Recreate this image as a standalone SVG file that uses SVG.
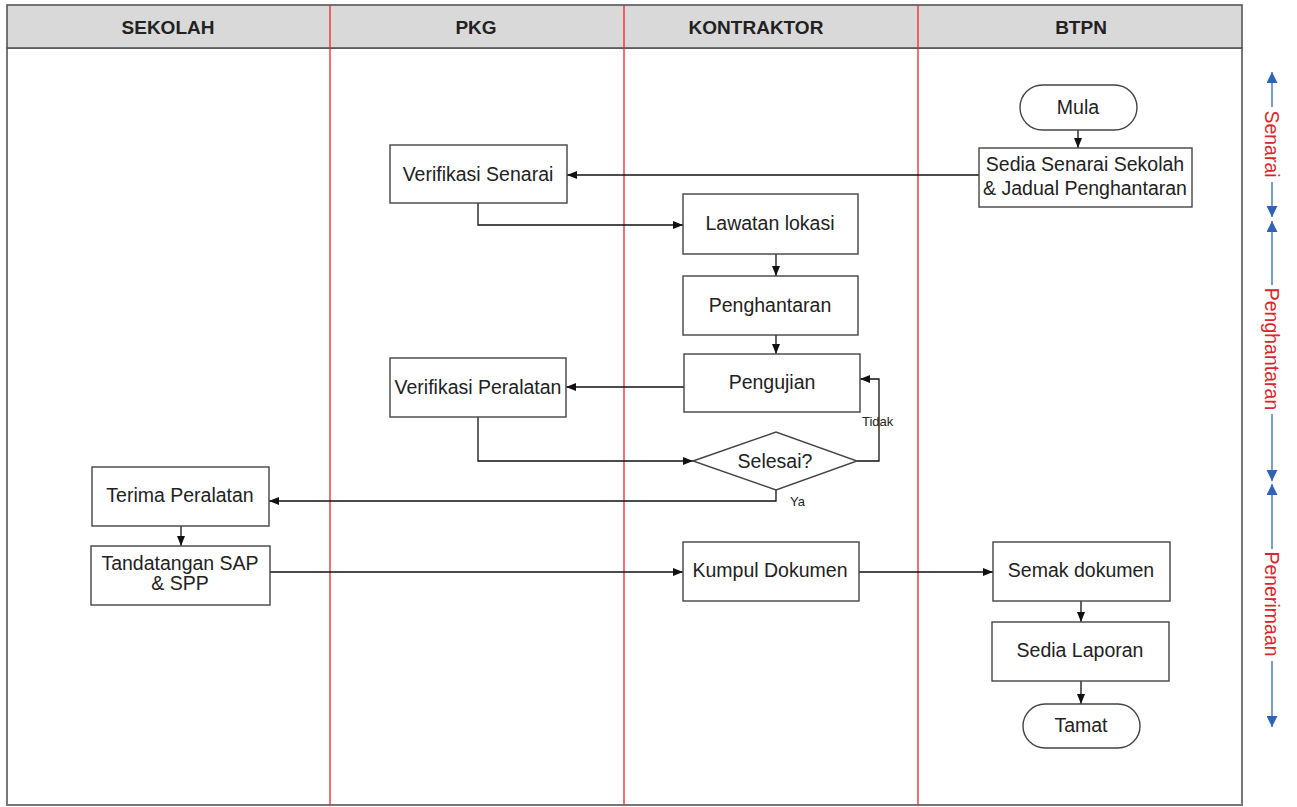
<svg xmlns="http://www.w3.org/2000/svg" width="1297" height="807" viewBox="0 0 1297 807">
<style>
.hdr{font-family:"Liberation Sans",Arial,sans-serif;font-size:19px;font-weight:bold;fill:#222;text-anchor:middle}
.t{font-family:"Liberation Sans",Arial,sans-serif;font-size:19.5px;fill:#222;text-anchor:middle}
.s{font-family:"Liberation Sans",Arial,sans-serif;font-size:13px;fill:#222}
.ph{font-family:"Liberation Sans",Arial,sans-serif;font-size:19.5px;fill:#d9262b;text-anchor:middle}
.box{fill:#fff;stroke:#444;stroke-width:1.4}
.lane{stroke:#e8262b;stroke-width:1.3;fill:none}
.c{fill:none;stroke:#111;stroke-width:1.3;marker-end:url(#ah)}
.b{fill:none;stroke:#4a7cc0;stroke-width:1.5}
</style>
<defs>
<marker id="ah" viewBox="0 0 10 8" refX="10" refY="4" markerWidth="10" markerHeight="8" markerUnits="userSpaceOnUse" orient="auto">
<path d="M0,0 L10,4 L0,8 z" fill="#111"/>
</marker>
<marker id="bh" viewBox="0 0 10 10" refX="10" refY="5" markerWidth="11" markerHeight="11" markerUnits="userSpaceOnUse" orient="auto">
<path d="M0,0 L10,5 L0,10 z" fill="#2f63b5"/>
</marker>
</defs>
<rect width="1297" height="807" fill="#fff"/>
<g id="frame">
<rect x="7" y="48" width="1235" height="757" fill="#fff" stroke="#777" stroke-width="2"/>
<rect x="7" y="5" width="1235" height="43" fill="#d9d9d9" stroke="#555" stroke-width="1.6"/>
<line class="lane" x1="330" y1="5" x2="330" y2="805"/>
<line class="lane" x1="624" y1="5" x2="624" y2="805"/>
<line class="lane" x1="918" y1="5" x2="918" y2="805"/>
<text class="hdr" x="168" y="34">SEKOLAH</text>
<text class="hdr" x="476" y="34">PKG</text>
<text class="hdr" x="756" y="34">KONTRAKTOR</text>
<text class="hdr" x="1081" y="34">BTPN</text>
</g>
<g id="phases">
<line class="b" x1="1272" y1="107" x2="1272" y2="72" marker-end="url(#bh)"/>
<line class="b" x1="1272" y1="182" x2="1272" y2="217" marker-end="url(#bh)"/>
<text class="ph" transform="translate(1265,144) rotate(90)">Senarai</text>
<line class="b" x1="1272" y1="285" x2="1272" y2="221" marker-end="url(#bh)"/>
<line class="b" x1="1272" y1="414" x2="1272" y2="481" marker-end="url(#bh)"/>
<text class="ph" transform="translate(1265,349) rotate(90)">Penghantaran</text>
<line class="b" x1="1272" y1="549" x2="1272" y2="484" marker-end="url(#bh)"/>
<line class="b" x1="1272" y1="661" x2="1272" y2="727" marker-end="url(#bh)"/>
<text class="ph" transform="translate(1265,604) rotate(90)">Penerimaan</text>
</g>
<g id="connectors">
<path class="c" d="M1078,130 V148"/>
<path class="c" d="M979,175 H567"/>
<path class="c" d="M478,203 V225 H683"/>
<path class="c" d="M776,254 V276"/>
<path class="c" d="M776,335 V354"/>
<path class="c" d="M684,387 H566"/>
<path class="c" d="M478,417 V461 H693"/>
<path class="c" d="M857,461 H879 V379 H860"/>
<path class="c" d="M776,490 V501 H269"/>
<path class="c" d="M181,526 V546"/>
<path class="c" d="M270,572 H683"/>
<path class="c" d="M859,572 H993"/>
<path class="c" d="M1081,601 V622"/>
<path class="c" d="M1081,681 V704"/>
<text class="s" x="862" y="426">Tidak</text>
<text class="s" x="790" y="506">Ya</text>
</g>
<g id="mula"><rect class="box" x="1020" y="85" width="117" height="45" rx="22.5"/><text class="t" x="1078" y="114">Mula</text></g>
<g id="sedia-senarai"><rect class="box" x="979" y="148" width="213" height="59"/><text class="t" x="1085" y="171">Sedia Senarai Sekolah</text><text class="t" x="1085" y="195">&amp; Jadual Penghantaran</text></g>
<g id="verifikasi-senarai"><rect class="box" x="390" y="145" width="177" height="58"/><text class="t" x="478" y="181">Verifikasi Senarai</text></g>
<g id="lawatan"><rect class="box" x="683" y="194" width="175" height="60"/><text class="t" x="770" y="230">Lawatan lokasi</text></g>
<g id="penghantaran"><rect class="box" x="683" y="276" width="175" height="59"/><text class="t" x="770" y="312">Penghantaran</text></g>
<g id="pengujian"><rect class="box" x="684" y="354" width="176" height="58"/><text class="t" x="772" y="389">Pengujian</text></g>
<g id="verifikasi-peralatan"><rect class="box" x="390" y="358" width="176" height="59"/><text class="t" x="478" y="394">Verifikasi Peralatan</text></g>
<g id="selesai"><polygon class="box" points="693,461 776,432 857,461 776,490"/><text class="t" x="775" y="468">Selesai?</text></g>
<g id="terima"><rect class="box" x="92" y="467" width="177" height="59"/><text class="t" x="180" y="502">Terima Peralatan</text></g>
<g id="tandatangan"><rect class="box" x="91" y="546" width="179" height="59"/><text class="t" x="180" y="570">Tandatangan SAP</text><text class="t" x="180" y="590">&amp; SPP</text></g>
<g id="kumpul"><rect class="box" x="683" y="542" width="176" height="59"/><text class="t" x="770" y="577">Kumpul Dokumen</text></g>
<g id="semak"><rect class="box" x="993" y="542" width="177" height="59"/><text class="t" x="1081" y="577">Semak dokumen</text></g>
<g id="laporan"><rect class="box" x="992" y="622" width="177" height="59"/><text class="t" x="1080" y="657">Sedia Laporan</text></g>
<g id="tamat"><rect class="box" x="1023" y="704" width="117" height="44" rx="22"/><text class="t" x="1081" y="732">Tamat</text></g>
</svg>
